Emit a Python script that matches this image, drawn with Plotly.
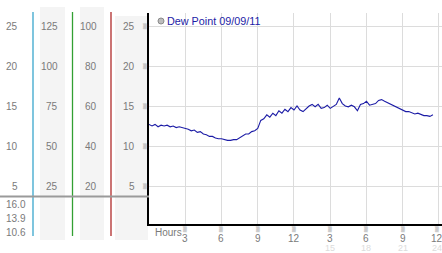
import plotly.graph_objects as go

W, H = 442, 253

# ---- data ----
hours = [i * 0.25 for i in range(95)]
dew_point = [
    12.7, 12.5, 12.7, 12.4, 12.6, 12.5, 12.6, 12.4, 12.5, 12.3, 12.4, 12.3,
    12.2, 12.1, 11.9, 12.0, 11.7, 11.8, 11.5, 11.4, 11.2, 11.2, 11.0, 10.9,
    10.9, 10.8, 10.7, 10.7, 10.8, 10.8, 11.0, 11.2, 11.5, 11.5, 11.8, 11.9,
    12.2, 13.2, 13.4, 13.9, 13.6, 14.1, 13.8, 14.4, 14.1, 14.6, 14.3, 14.8,
    14.5, 15.0, 14.5, 14.3, 14.7, 15.0, 15.2, 14.9, 15.2, 14.7, 14.8, 15.1,
    14.7, 15.0, 15.2, 16.0, 15.3, 15.0, 14.9, 15.1, 14.9, 14.4, 15.2, 15.3,
    15.6, 15.1, 15.2, 15.3, 15.7, 15.8, 15.6, 15.4, 15.3, 15.1, 14.9, 14.6,
    14.4, 14.3, 14.3, 14.1, 14.0, 14.1, 13.9, 13.8, 13.8, 13.7, 13.9,
]
y_ticks = [5, 10, 15, 20, 25]
col2_mult = 5
col3_mult = 4
x_ticks = [3, 6, 9, 12, 15, 18, 21, 24]
x_ticktext = ["3", "6", "9", "12", "3", "6", "9", "12"]
x_ticktext2 = ["15", "18", "21", "24"]
stats = ["16.0", "13.9", "10.6"]
series_name = "Dew Point 09/09/11"


def px(x):
    return x / W


def py(y):
    return 1 - y / H


FONT = "Liberation Sans, Arial, sans-serif"
GREY_TXT = "#7a7a7a"
MARK = dict(family="DejaVu Sans", size=5, color="#a8a8a8")

fig = go.Figure()
fig.add_trace(go.Scatter(
    x=hours, y=dew_point, mode="lines",
    line=dict(color="#1c1ca6", width=1.1),
    showlegend=False, hoverinfo="skip",
))

shapes = []
for x0, x1, y0 in [(40, 65, 7), (80, 104, 7), (115, 148, 16)]:
    shapes.append(dict(type="rect", xref="paper", yref="paper",
                       x0=px(x0), x1=px(x1), y0=py(240), y1=py(y0),
                       fillcolor="#f4f4f4", line=dict(width=0), layer="below"))
for x, c in [(33, "#3aa6cc"), (72.5, "#33a033"), (111, "#b02a2a")]:
    shapes.append(dict(type="line", xref="paper", yref="paper",
                       x0=px(x), x1=px(x), y0=py(236), y1=py(12),
                       line=dict(color=c, width=1.3)))
shapes.append(dict(type="line", xref="paper", yref="paper",
                   x0=0, x1=px(149), y0=py(196.5), y1=py(196.5),
                   line=dict(color="#9a9a9a", width=2)))
shapes.append(dict(type="circle", xref="paper", yref="paper",
                   x0=px(158), x1=px(164), y0=py(24), y1=py(18),
                   fillcolor="#bdbdbd", line=dict(color="#8a8a8a", width=1)))

ann = []
f = dict(family=FONT, size=10, color=GREY_TXT)
for v in y_ticks:
    ann.append(dict(x=px(20), y=v, xref="paper", yref="y", text=str(v),
                    showarrow=False, xanchor="right", yanchor="middle", font=f))
    ann.append(dict(x=px(60), y=v, xref="paper", yref="y", text=str(v * col2_mult),
                    showarrow=False, xanchor="right", yanchor="middle", font=f))
    ann.append(dict(x=px(99), y=v, xref="paper", yref="y", text=str(v * col3_mult),
                    showarrow=False, xanchor="right", yanchor="middle", font=f))
    ann.append(dict(x=px(137), y=v, xref="paper", yref="y", text=str(v),
                    showarrow=False, xanchor="right", yanchor="middle", font=f))
    ann.append(dict(x=px(145), y=v, xref="paper", yref="y", text="▒",
                    showarrow=False, xanchor="center", yanchor="middle", font=MARK))

for i, s in enumerate(stats):
    ann.append(dict(x=px(28), y=py(204 + 14 * i), xref="paper", yref="paper", text=s,
                    showarrow=False, xanchor="right", yanchor="middle", font=f))

for k, (xv, t) in enumerate(zip(x_ticks, x_ticktext)):
    sh = -2 if k == len(x_ticks) - 1 else 0
    ann.append(dict(x=xv, y=py(229.5), xref="x", yref="paper", text="▒",
                    showarrow=False, xanchor="center", yanchor="middle",
                    xshift=sh, font=MARK))
    ann.append(dict(x=xv, y=py(238.5), xref="x", yref="paper", text=t,
                    showarrow=False, xanchor="center", yanchor="middle",
                    xshift=sh, font=f))
for k, (xv, t) in enumerate(zip(x_ticks[4:], x_ticktext2)):
    sh = -2 if k == len(x_ticktext2) - 1 else 0
    ann.append(dict(x=xv, y=py(247.5), xref="x", yref="paper", text=t,
                    showarrow=False, xanchor="center", yanchor="middle",
                    xshift=sh, font=dict(family=FONT, size=9, color="#dcdcdc")))

ann.append(dict(x=px(153), y=py(232), xref="paper", yref="paper", text="Hours",
                showarrow=False, xanchor="left", yanchor="middle", font=f))
ann.append(dict(x=px(165), y=py(21), xref="paper", yref="paper", text=series_name,
                showarrow=False, xanchor="left", yanchor="middle",
                font=dict(family=FONT, size=10.8, color="#1c1ca6")))

fig.update_layout(
    width=W, height=H, margin=dict(l=0, r=0, t=0, b=0),
    paper_bgcolor="white", plot_bgcolor="white",
    shapes=shapes, annotations=ann,
    xaxis=dict(domain=[px(149), 1], range=[0, 24.25], tickvals=x_ticks,
               showticklabels=False, ticks="", showgrid=True, gridcolor="#dcdcdc",
               gridwidth=1, zeroline=False, showline=True, linecolor="black",
               linewidth=1.5, fixedrange=True),
    yaxis=dict(domain=[py(224), py(13)], range=[0.25, 26.625], tickvals=y_ticks,
               showticklabels=False, ticks="", showgrid=True, gridcolor="#dcdcdc",
               gridwidth=1, zeroline=False, showline=True, linecolor="black",
               linewidth=1.5, fixedrange=True),
)

fig.write_html("out.html")
